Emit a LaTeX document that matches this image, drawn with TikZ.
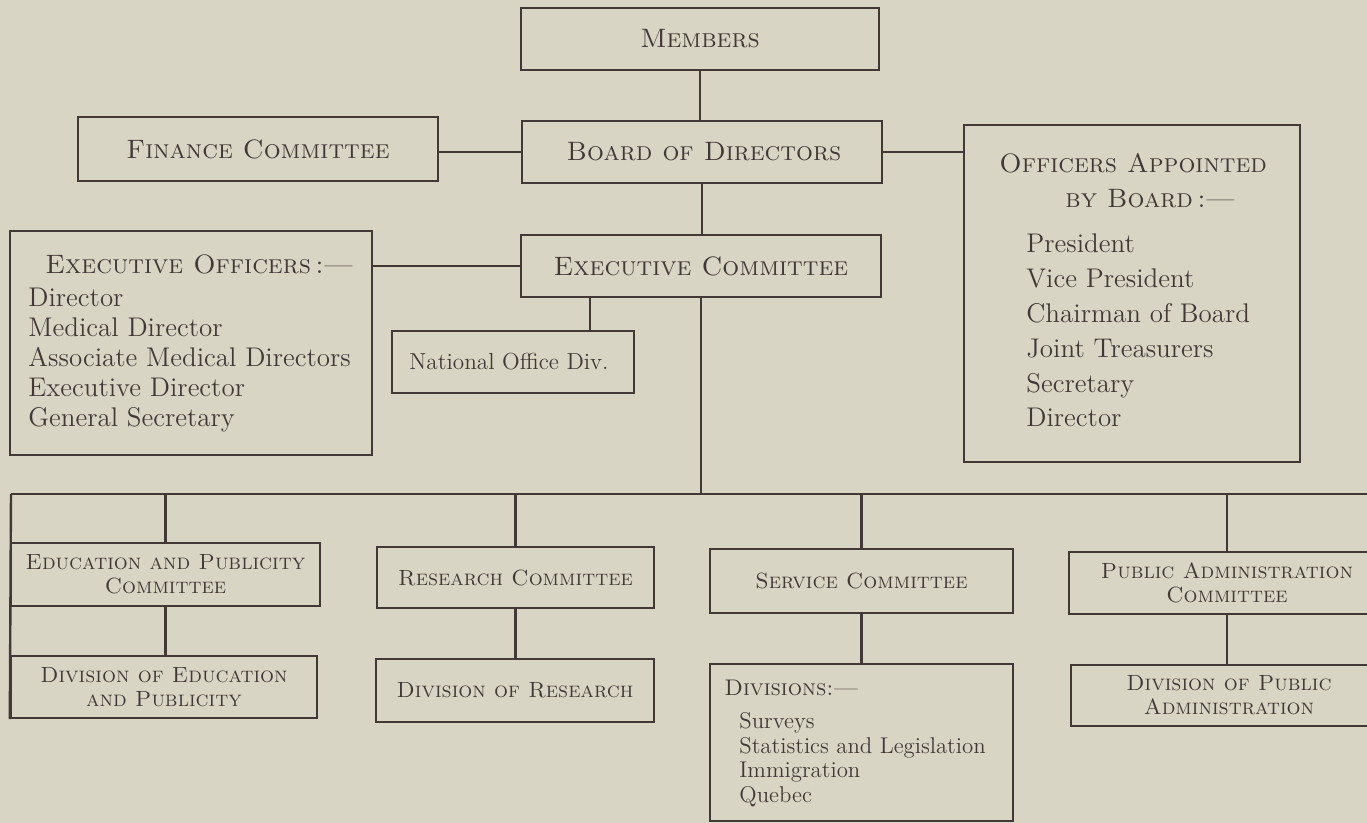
\documentclass[tikz,border=0pt]{standalone}
\usetikzlibrary{fit}
\definecolor{paper}{RGB}{217,213,196}
\definecolor{ink}{RGB}{66,56,54}
\begin{document}
\begin{tikzpicture}[x=0.5pt,y=-0.5pt,
  box/.style={draw=ink,line width=1.2pt,inner sep=0pt},
  big/.style={font=\fontsize{13.3}{16}\selectfont\scshape,text=ink,align=center,inner sep=0pt},
  small/.style={font=\fontsize{11}{12}\selectfont\scshape,text=ink,align=center,inner sep=0pt},
  plain/.style={font=\fontsize{11.6}{13}\selectfont,text=ink,align=center,inner sep=0pt},
  lst/.style={font=\fontsize{13.5}{15}\selectfont,text=ink,anchor=base west,inner sep=0pt},
  slst/.style={font=\fontsize{11.4}{12}\selectfont,text=ink,anchor=base west,inner sep=0pt},
  hdr/.style={font=\fontsize{13.3}{16}\selectfont\scshape,text=ink,anchor=base west,inner sep=0pt},
  shdr/.style={font=\fontsize{11.3}{12}\selectfont\scshape,text=ink,anchor=base west,inner sep=0pt},
  link/.style={draw=ink,line width=1.2pt}]
\useasboundingbox (0,0) rectangle (1367,823);
\fill[paper] (0,0) rectangle (1367,823);
\clip (0,0) rectangle (1367,823);

% top part
\node[box,fit={(521,8)(879,70)},label={[big]center:Members}] (members) {};
\node[box,fit={(522,121)(882,183)},label={[big,xshift=1pt]center:Board of Directors}] (board) {};
\node[box,fit={(78,117)(438,181)},label={[big]center:Finance Committee}] (finance) {};
\node[box,fit={(964,125)(1300,462)}] (officers) {};
\node[box,fit={(10,231)(372,455)}] (execoff) {};
\node[box,fit={(521,235)(881,297)},label={[big]center:Executive Committee}] (execcomm) {};
\node[box,fit={(392,331)(634,393)},label={[plain,xshift=-2pt]center:National Office Div.}] (national) {};

% officers appointed by board
\node[hdr] (offh1) at (999,173) {Officers Appointed};
\node[hdr] (offh2) at (1065,208) {by Board\,:—};
\foreach \t [count=\i from 0] in {President,Vice President,Chairman of Board,Joint Treasurers,Secretary,Director}
  \node[lst] (off\i) at (1026,253+34.8*\i) {\t};

% executive officers
\node[hdr] (eoh) at (45,274) {Executive Officers\,:—};
\foreach \t [count=\i from 0] in {Director,Medical Director,Associate Medical Directors,Executive Director,General Secretary}
  \node[lst] (eo\i) at (28,307+30*\i) {\t};

% bottom part
\node[box,fit={(11,543)(320,606)},label={[small]center:Education and Publicity\\Committee}] (edu) {};
\node[box,fit={(11,656)(317,718)},label={[small]center:Division of Education\\and Publicity}] (divedu) {};
\node[box,fit={(377,547)(654,608)},label={[small]center:Research Committee}] (research) {};
\node[box,fit={(376,659)(654,722)},label={[small]center:Division of Research}] (divres) {};
\node[box,fit={(710,549)(1013,613)},label={[small]center:Service Committee}] (service) {};
\node[box,fit={(710,664)(1013,821)}] (divisions) {};
\node[box,fit={(1069,552)(1385,614)},label={[small]center:Public Administration\\Committee}] (pa) {};
\node[box,fit={(1071,665)(1387,726)},label={[small]center:Division of Public\\Administration}] (divpa) {};

\node[shdr] (divh) at (724,696) {Divisions:—};
\foreach \t [count=\i from 0] in {Surveys,Statistics and Legislation,Immigration,Quebec}
  \node[slst] (dv\i) at (739,729+24.4*\i) {\t};

% connectors
\coordinate (busL) at (11,494);
\coordinate (busR) at (1400,494);
\coordinate (natx) at (590,0);

\draw[link] (members.south) -- (members.south |- board.north);
\draw[link] (board.west -| finance.east) -- (board.west);
\draw[link] (board.east) -- (board.east -| officers.west);
\draw[link] (board.south) -- (board.south |- execcomm.north);
\draw[link] (execcomm.west) -- (execcomm.west -| execoff.east);
\draw[link] (execcomm.south -| natx) -- (national.north -| natx);
\draw[link] (execcomm.south) -- (execcomm.south |- busL);
\draw[link] (busL) -- (busR);
\draw[link] (busL) -- (divedu.south west);
\draw[link] (edu.north) -- (edu.north |- busL);
\draw[link] (research.north) -- (research.north |- busL);
\draw[link] (service.north) -- (service.north |- busL);
\draw[link] (pa.north) -- (pa.north |- busL);
\draw[link] (edu.south) -- (edu.south |- divedu.north);
\draw[link] (research.south) -- (research.south |- divres.north);
\draw[link] (service.south) -- (service.south |- divisions.north);
\draw[link] (pa.south) -- (pa.south |- divpa.north);
\end{tikzpicture}
\end{document}
